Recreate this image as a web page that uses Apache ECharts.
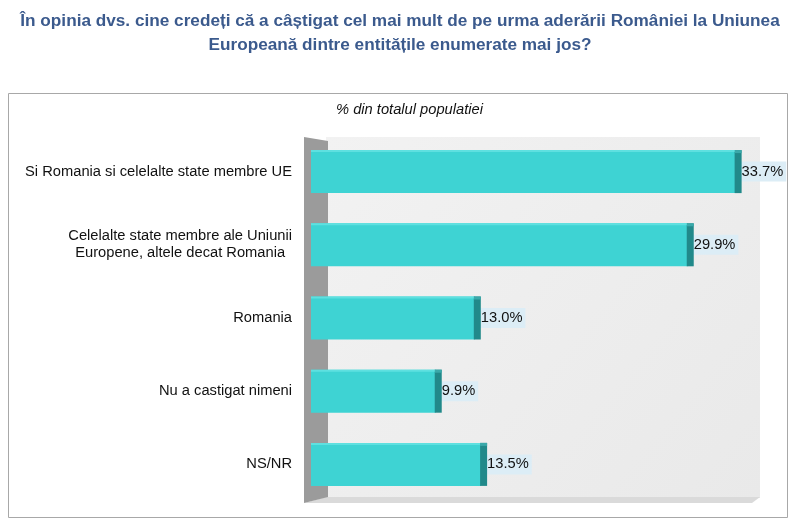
<!DOCTYPE html>
<html>
<head>
<meta charset="utf-8">
<script src="https://cdn.jsdelivr.net/npm/echarts@6/dist/echarts.min.js"></script>
<style>
  html, body { margin: 0; padding: 0; background: #fff; }
  #chart { width: 800px; height: 525px; }
</style>
</head>
<body>
<div id="chart"></div>
<script>
// date din grafic
var categorii = [
    'Si Romania si celelalte state membre UE',
    'Celelalte state membre ale Uniunii\nEuropene, altele decat Romania',
    'Romania',
    'Nu a castigat nimeni',
    'NS/NR'
];
var procente = [33.7, 29.9, 13.0, 9.9, 13.5];
var titlu = 'În opinia dvs. cine credeți că a câștigat cel mai mult de pe urma aderării României la Uniunea\nEuropeană dintre entitățile enumerate mai jos?';
var subtitlu = '% din totalul populatiei';

var chart = echarts.init(document.getElementById('chart'));

var option = {
    animation: false,
    backgroundColor: '#ffffff',
    title: {
        text: titlu,
        left: 'center',
        top: 4,
        padding: [5, 12, 5, 0],
        textStyle: {
            fontFamily: 'Liberation Sans',
            fontSize: 17.2,
            fontWeight: 'bold',
            color: '#3b5a8d',
            lineHeight: 24
        }
    },
    graphic: [
        // rama exterioara
        { type: 'rect', z: -10, shape: { x: 8.5, y: 93.5, width: 779, height: 424 },
          style: { fill: '#fff', stroke: '#a8a8a8', lineWidth: 1 } },
        // peretele din spate
        { type: 'rect', z: -9, shape: { x: 326, y: 137, width: 434, height: 361 },
          style: { fill: new echarts.graphic.LinearGradient(0, 0, 1, 1, [
              { offset: 0, color: '#f2f2f2' }, { offset: 1, color: '#e9e9e9' }]) } },
        // podea / umbra
        { type: 'polygon', z: -9, shape: { points: [[326, 497], [760, 497], [752, 503], [304, 503]] },
          style: { fill: '#dadada' } },
        // peretele lateral
        { type: 'polygon', z: -8, shape: { points: [[304, 137], [328, 141], [328, 497], [304, 503]] },
          style: { fill: '#9b9b9b' } },
        { type: 'text', left: 336, top: 102,
          style: { text: subtitlu, font: 'italic 14.7px "Liberation Sans"', fill: '#111' } }
    ],
    grid: { left: 311, top: 135, width: 441, height: 366, containLabel: false },
    xAxis: {
        type: 'value', min: 0, max: 35, show: false
    },
    yAxis: {
        type: 'category',
        data: categorii,
        inverse: true,
        axisLine: { show: false },
        axisTick: { show: false },
        axisLabel: {
            margin: 19,
            fontFamily: 'Liberation Sans',
            fontSize: 14.7,
            color: '#111',
            lineHeight: 17,
            formatter: function (v) {
                return v.split('\n').map(function (s) { return '{c|' + s + '}'; }).join('\n');
            },
            rich: { c: { align: 'center', fontSize: 14.7, lineHeight: 17, fontFamily: 'Liberation Sans', color: '#111' } }
        }
    },
    series: [
        {
            type: 'bar',
            data: procente,
            barWidth: 43,
            itemStyle: { color: '#3ed3d3' },
            label: {
                show: true,
                position: 'right',
                distance: 3,
                formatter: function (p) { return p.value.toFixed(1) + '%'; },
                fontFamily: 'Liberation Sans',
                fontSize: 14.7,
                color: '#111',
                backgroundColor: '#dcedf6',
                padding: [3, 3, 2, 3]
            }
        },
        {
            // fata laterala a barei (efect 3D)
            type: 'custom',
            silent: true,
            z: 3,
            data: procente.map(function (v, i) { return [v, i]; }),
            renderItem: function (params, api) {
                var end = api.coord([api.value(0), api.value(1)]);
                var h = 43;
                return {
                    type: 'group',
                    children: [
                        { type: 'rect', shape: { x: end[0] - 1, y: end[1] - h / 2, width: 7, height: h },
                          style: { fill: '#21898a' } },
                        { type: 'rect', shape: { x: end[0] - 1, y: end[1] - h / 2, width: 7, height: 3 },
                          style: { fill: '#3aa9aa' } },
                        { type: 'rect', shape: { x: 311, y: end[1] - h / 2, width: end[0] - 312, height: 2 },
                          style: { fill: '#5ee0e0' } }
                    ]
                };
            }
        }
    ]
};

chart.setOption(option);
</script>
</body>
</html>
